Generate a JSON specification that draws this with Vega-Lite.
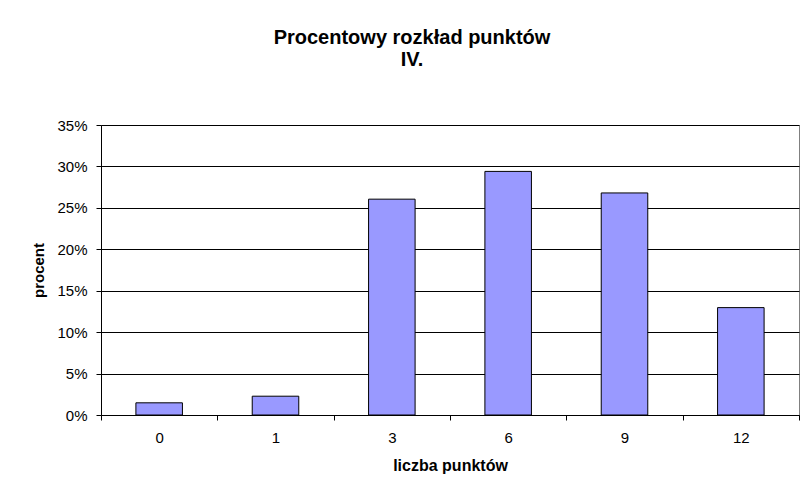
{
  "$schema": "https://vega.github.io/schema/vega-lite/v6.json",
  "autosize": "none",
  "width": 698,
  "height": 290,
  "padding": {"left": 101, "top": 125, "right": 5, "bottom": 79},
  "background": "white",
  "title": {
    "text": ["Procentowy rozkład punktów", "IV."],
    "font": "Liberation Sans",
    "fontSize": 20,
    "fontWeight": "bold",
    "color": "black",
    "anchor": "middle",
    "dx": -38,
    "offset": 48,
    "lineHeight": 22
  },
  "data": {
    "values": [
      {"punkty": "0", "procent": 0.0147},
      {"punkty": "1", "procent": 0.0227},
      {"punkty": "3", "procent": 0.2605},
      {"punkty": "6", "procent": 0.294},
      {"punkty": "9", "procent": 0.268},
      {"punkty": "12", "procent": 0.1296}
    ]
  },
  "mark": {"type": "bar", "fill": "#9999FF", "stroke": "black", "strokeWidth": 1, "width": {"band": 0.4}},
  "encoding": {
    "x": {
      "field": "punkty",
      "type": "ordinal",
      "sort": null,
      "scale": {"paddingInner": 0, "paddingOuter": 0},
      "axis": {
        "title": "liczba punktów",
        "labelAngle": 0,
        "tickBand": "extent",
        "tickSize": 5,
        "tickColor": "black",
        "domainColor": "black",
        "labelFont": "Liberation Sans",
        "labelFontSize": 15,
        "labelColor": "black",
        "labelPadding": 10,
        "titleFont": "Liberation Sans",
        "titleFontSize": 16,
        "titleFontWeight": "bold",
        "titleColor": "black",
        "titlePadding": 12
      }
    },
    "y": {
      "field": "procent",
      "type": "quantitative",
      "scale": {"domain": [0, 0.35], "nice": false},
      "axis": {
        "title": "procent",
        "format": ".0%",
        "values": [0, 0.05, 0.1, 0.15, 0.2, 0.25, 0.3, 0.35],
        "grid": true,
        "gridColor": "black",
        "gridOpacity": 1,
        "tickSize": 5,
        "tickColor": "black",
        "domainColor": "black",
        "labelFont": "Liberation Sans",
        "labelFontSize": 15,
        "labelColor": "black",
        "labelPadding": 9,
        "titleFont": "Liberation Sans",
        "titleFontSize": 15,
        "titleFontWeight": "bold",
        "titleColor": "black",
        "titlePadding": 10
      }
    }
  },
  "config": {
    "view": {"stroke": "#808080", "strokeWidth": 1}
  }
}
